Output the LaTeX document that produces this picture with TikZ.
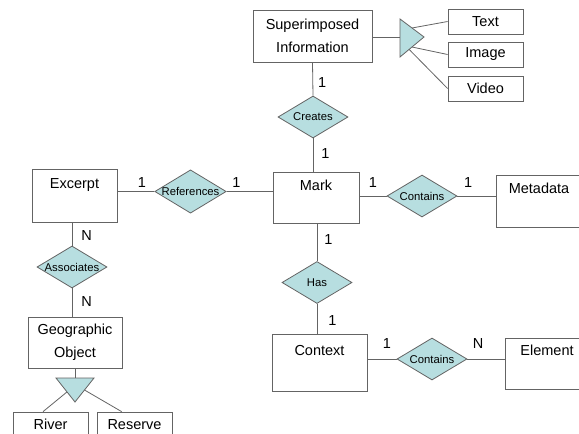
\documentclass[tikz,border=0pt]{standalone}
\usepackage{fontspec}
\setmainfont{Liberation Sans}
\usetikzlibrary{shapes.geometric}
\definecolor{relfill}{RGB}{183,222,224}
\definecolor{edgegray}{RGB}{100,100,100}
\tikzset{
every card/.style={font=\fontsize{14.5}{17}\selectfont},
}

\begin{document}
\begin{tikzpicture}[x=1pt, y=-1pt, line width=0.8pt, color=edgegray, text=black,
						ent/.style={draw, rectangle, fill=white, inner sep=0pt, align=center, font=\fontsize{14.5}{23}\selectfont},
                        sub/.style={ent, minimum width=75pt, minimum height=25pt},
                        etext/.style={inner sep=0pt, text height=11pt, text depth=3pt, font=\fontsize{14.5}{17}\selectfont},
                        rel/.style={diamond, draw, fill=relfill, aspect=1.65, inner sep=0pt, minimum width=70pt, minimum height=42pt, font=\fontsize{11.3}{13}\selectfont},
                        card/.style={every card, inner sep=1pt},
                        isa/.style={draw, fill=relfill},
					]
					\useasboundingbox (0,0) rectangle (579,434);
					% entities
					\node[ent, minimum width=119pt, minimum height=52pt] (si) at (312.5,36) {Superimposed\\Information};
					\node[sub] (text) at (485.5,21.5) {Text};
					\node[sub] (image) at (485.5,54.5) {Image};
					\node[sub] (video) at (485.5,88.5) {Video};
					\node[ent, minimum width=86pt, minimum height=51pt] (mark) at (316,197.5) {}; \node[etext, below=7pt] at (mark.north) {Mark};
					\node[ent, minimum width=86pt, minimum height=52pt] (meta) at (539,201) {}; \node[etext, below=7pt] at (meta.north) {Metadata};
					\node[ent, minimum width=85pt, minimum height=53pt] (excerpt) at (74.5,195.5) {}; \node[etext, below=8pt] at (excerpt.north) {Excerpt};
					\node[ent, minimum width=94pt, minimum height=51pt] (geo) at (75,342.5) {Geographic\\Object};
					\node[sub] (river) at (50.5,424.5) {River};
					\node[sub] (reserve) at (134.5,424.5) {Reserve};
					\node[ent, minimum width=95pt, minimum height=57pt] (context) at (319.5,362.5) {}; \node[etext, below=10pt] at (context.north) {Context};
					\node[ent, minimum width=84pt, minimum height=51pt] (element) at (547,363.5) {}; \node[etext, below=6pt] at (element.north) {Element};
					% relationships
					\node[rel] (creates) at (313,117) {Creates};
					\node[rel] (refs) at (190.5,191.5) {References};
					\node[rel] (contm) at (422,196) {Contains};
					\node[rel] (assoc) at (72,267) {Associates};
					\node[rel] (has) at (317,282.5) {Has};
					\node[rel] (contel) at (432,359) {Contains};
					% is-a triangles
					\draw[isa] (400,19) -- coordinate[pos=0.5] (ta) (424,37) -- coordinate[pos=0.5] (tb) coordinate[pos=0.62] (tc) (400,57) -- cycle;
					\coordinate (tin) at (400,37);
					\draw[isa] (56,378) -- coordinate[pos=0.5] (gtop) (94,378) -- coordinate[pos=0.5] (gr) (75,402) -- coordinate[pos=0.42] (gl) cycle;
                    \draw (si.east |- tin) -- (tin);
                    \draw (ta) -- (text.west);
                    \draw (tb) -- (image.west);
                    \draw (tc) -- (video.west);
                    \draw (geo.south) -- (gtop);
                    \draw (gl) -- (river.120);
                    \draw (gr) -- (reserve.135);
                    % connectors with cardinalities
                    \draw (si.south) -- node[card, right=4pt, pos=0.6] {1} (creates.north);
                    \draw (creates.south) -- node[card, right=7pt, pos=0.45] {1} (creates.south |- mark.north);
                    \draw (has.north |- mark.south) -- node[card, right=6pt, pos=0.42] {1} (has.north);
                    \draw (has.south) -- node[card, right=10pt, pos=0.55] {1} (has.south |- context.north);
                    \draw (excerpt.east |- refs.west) -- node[card, above=3pt, pos=0.66] {1} (refs.west);
                    \draw (refs.east) -- node[card, above=3pt, pos=0.21] {1} (refs.east -| mark.west);
                    \draw (mark.east |- contm.west) -- node[card, above=7pt] {1} (contm.west);
                    \draw (contm.east) -- node[card, above=7pt, pos=0.28] {1} (contm.east -| meta.west);
                    \draw (assoc.north |- excerpt.south) -- node[card, right=8pt, pos=0.55] {N} (assoc.north);
                    \draw (assoc.south) -- node[card, right=8pt, pos=0.48] {N} (assoc.south |- geo.north);
                    \draw (context.east |- contel.west) -- node[card, above=9pt, pos=0.67] {1} (contel.west);
                    \draw (contel.east) -- node[card, above=9pt, pos=0.29] {N} (contel.east -| element.west);
	\end{tikzpicture}
\end{document}
